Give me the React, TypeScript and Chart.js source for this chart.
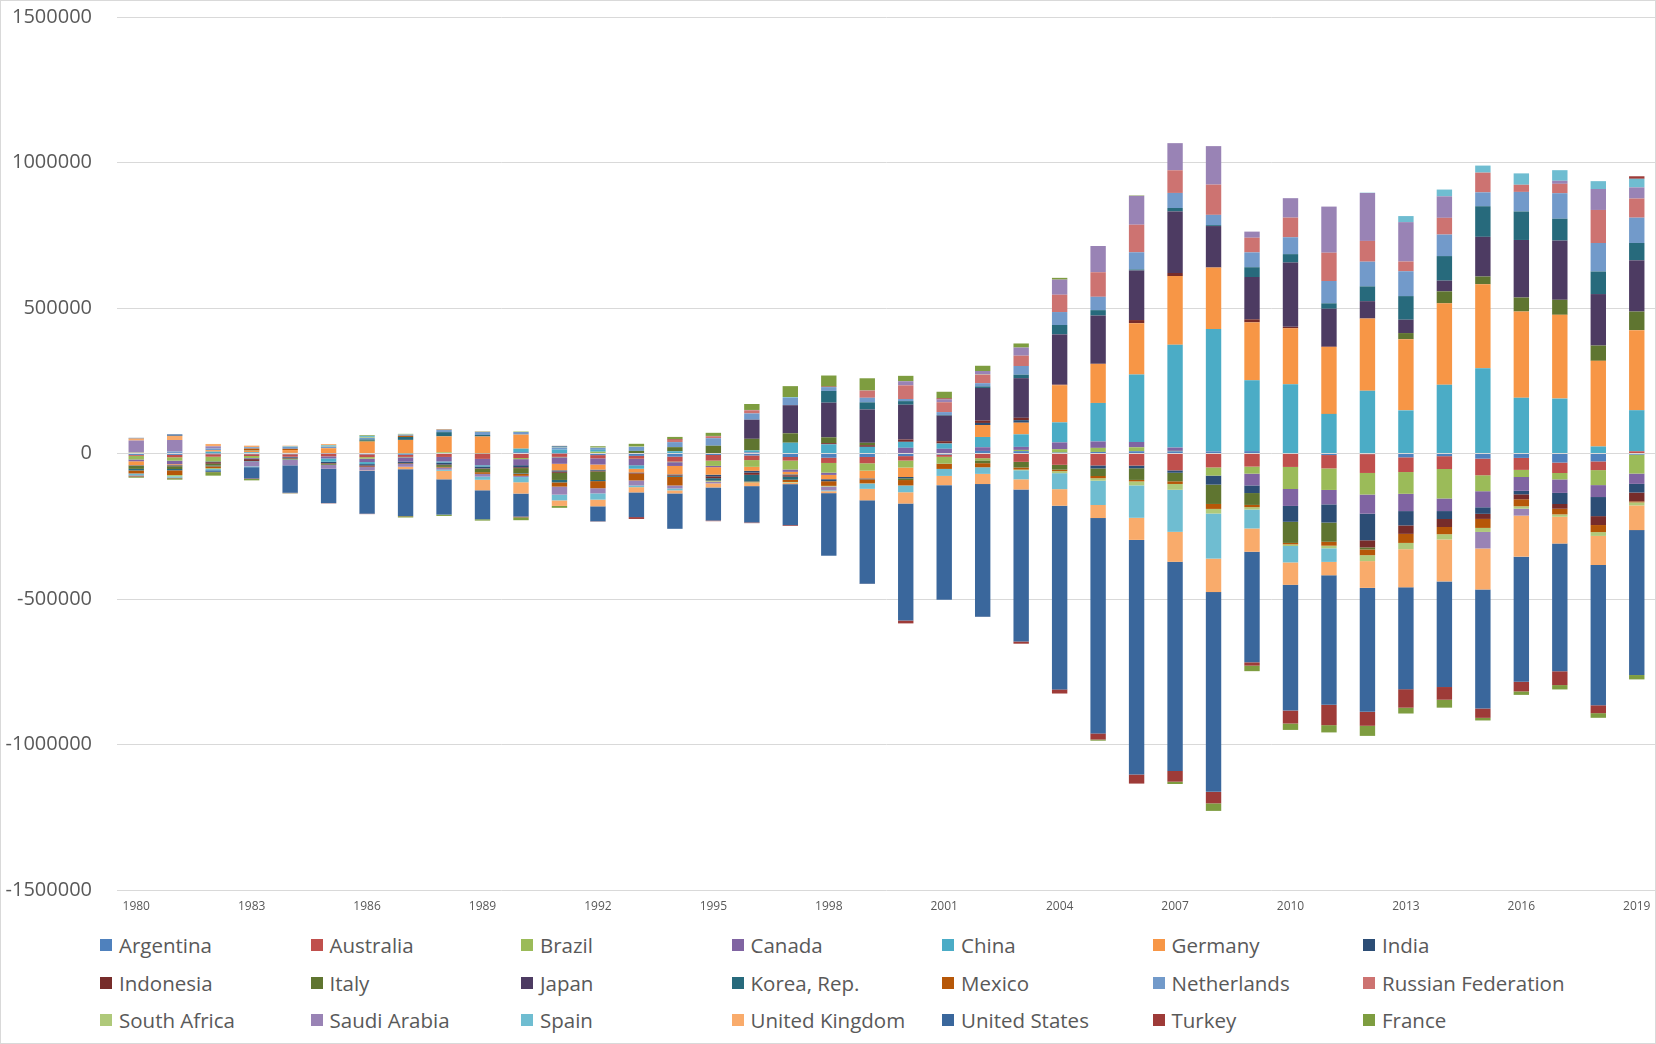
import React, { useEffect, useRef } from "react";
import { Chart, registerables } from "chart.js";

Chart.register(...registerables);

const years = [
  "1980", "1981", "1982", "1983", "1984", "1985", "1986", "1987", "1988", "1989",
  "1990", "1991", "1992", "1993", "1994", "1995", "1996", "1997", "1998", "1999",
  "2000", "2001", "2002", "2003", "2004", "2005", "2006", "2007", "2008", "2009",
  "2010", "2011", "2012", "2013", "2014", "2015", "2016", "2017", "2018", "2019",
];

const yTicks = [-1500000, -1000000, -500000, 0, 500000, 1000000, 1500000];

const argentina = [-4800, -4700, -2400, -2400, -2500, -1000, -2900, -4200, -1600, -1300, 4600, -600, -5500, -8200, -10900, -5100, -6800, -12000, -14500, -11900, -9000, -3800, 8800, 8100, 3200, 5300, 7800, 7400, 6800, 8200, -1600, -5300, -2100, -13100, -9200, -17600, -15100, -31200, -27100, -4000];
const australia = [-3000, -8300, -8600, -6100, -8600, -8800, -9600, -7500, -10200, -17200, -15600, -11000, -11300, -9700, -17100, -19400, -15800, -12400, -18000, -21700, -15200, -7600, -16100, -28700, -38900, -41000, -41500, -58000, -47800, -45000, -44600, -45900, -64800, -50600, -44000, -57200, -41200, -35800, -30000, 7500];
const brazil = [-12800, -11700, -16300, -6800, 0, -200, -5300, -1400, 4200, 1000, -3800, -1400, 6100, -700, -1800, -18100, -23200, -30500, -33400, -25300, -24200, -23200, -7600, 4200, 11700, 14000, 13600, 1600, -28200, -24300, -75800, -74000, -74200, -74800, -101400, -54800, -24500, -22000, -51500, -65000];
const canada = [-6100, -12100, 700, -2000, -1200, -7000, -11700, -14400, -15500, -21800, -20800, -22400, -21100, -21800, -13000, -4400, 3400, -8200, -7700, 1700, 19600, 16200, 12600, 10400, 23200, 22000, 18200, 11400, 300, -40400, -58200, -49600, -65700, -59400, -43200, -55200, -47400, -46400, -41000, -35400];
const china = [null, null, 5700, 4200, 2000, -11400, -7000, 300, -3800, -4300, 12000, 13300, 6400, -11900, 7700, 1600, 7200, 37000, 31500, 21100, 20500, 17400, 35400, 43100, 68900, 132400, 231800, 353200, 420600, 243300, 237800, 136100, 215400, 148200, 236000, 293000, 191300, 188700, 24100, 141300];
const germany = [-13800, -3600, 5100, 5300, 9800, 17600, 40900, 46400, 54700, 57400, 48300, -22400, -17500, -12900, -28900, -25800, -13800, -8700, -14700, -26700, -32400, 400, 41100, 40000, 127800, 134300, 176300, 236100, 211200, 199100, 192300, 229800, 248400, 244700, 280100, 288600, 296600, 287900, 294300, 275000];
const india = [-1800, -2700, -2500, -2000, -2500, -4300, -4400, -5000, -6800, -6300, -7000, -4300, -3500, -1900, -1700, -5600, -6000, -3000, -6900, -3200, -4600, 1400, 7100, 8800, 800, -10300, -9300, -8100, -30900, -26200, -54500, -62500, -91500, -49200, -27300, -22500, -12100, -38200, -65600, -29800];
const indonesia = [null, -600, -5300, -6300, -2000, -1900, -3900, -1700, -1900, -1600, -3000, -4300, -2800, -2100, -2800, -6400, -7700, -5000, 4100, 5800, 8000, 6900, 7800, 8100, 1600, 300, 10900, 10500, 100, 10600, 5100, 1700, -24400, -29100, -27500, -17500, -17000, -16200, -30600, -30300];
const italy = [-10600, -9500, -6300, 1400, -2700, -4000, 2800, -1600, -6200, -11700, -17000, -24500, -29300, 8600, 14100, 25100, 39900, 32400, 20000, 8200, -5800, -700, -9600, -19400, -16500, -26000, -40000, -29500, -66500, -40800, -72600, -66000, -7000, 21000, 41100, 26600, 48100, 51600, 52500, 64000];
const japan = [null, null, null, null, null, null, null, null, null, null, null, null, null, null, null, null, 65800, 96600, 119100, 114500, 119600, 87800, 112400, 136200, 172100, 165700, 170400, 211700, 142600, 145300, 221000, 129800, 59700, 45900, 36800, 136400, 197800, 203500, 177000, 176000];
const korea = [-5300, -4600, -2600, -1500, -1300, -800, 4700, 10100, 14500, 5300, -2000, -8300, -3900, 1000, -3900, -8500, -23000, -10300, 40400, 24500, 12300, 2400, 5400, 11900, 32300, 18600, 3600, 11800, 3200, 33600, 28900, 18700, 50800, 81100, 84400, 105100, 97900, 75200, 77500, 59700];
const mexico = [-10400, -16100, -6300, 5900, 4200, 1100, -1700, 4000, -2400, -5800, -7500, -14600, -24400, -23400, -29700, -1600, -2500, -7700, -16000, -13900, -18600, -17700, -14100, -7200, -5200, -7700, -5100, -9100, -17000, -7700, -5000, -13500, -19800, -31100, -24800, -30900, -24100, -19400, -24400, -3500];
const netherlands = [-1400, 6700, 5600, 4900, 6300, 5300, 5400, 4200, 7200, 10100, 9000, 7500, 7000, 13200, 17300, 25800, 21400, 25100, 13000, 15700, 7200, 9800, 11000, 29900, 44500, 45900, 58900, 51700, 35300, 51000, 58000, 76600, 84900, 85400, 74000, 47700, 67300, 87600, 98000, 87000];
const russia = [null, null, null, null, null, null, null, null, null, null, null, null, null, null, 7800, 7000, 10800, -100, 200, 24600, 46800, 33900, 29100, 35400, 59500, 84400, 94700, 77800, 103900, 50400, 67500, 97300, 71300, 33400, 57500, 67800, 24500, 32200, 113500, 65700];
const southAfrica = [3100, -4400, -3100, -300, -1400, 2300, 2700, 2700, 1100, 1400, 2100, 2200, 1500, 1500, 100, -2500, -1700, -2300, -2200, -700, -200, 300, 900, -2300, -7000, -8500, -13700, -20000, -15900, -8100, -5600, -9100, -20300, -21600, -18100, -13900, -8200, -8200, -13000, -10300];
const saudiArabia = [41500, 39600, 7600, -16900, -18400, -12900, -11800, -9800, -7300, -9500, -4200, -27500, -17700, -17300, -10500, -5300, 700, 300, -13100, 400, 14300, 9400, 11900, 28000, 52000, 90100, 99100, 93300, 132300, 21000, 66800, 158500, 164800, 135400, 73800, -56700, -23800, 10500, 72000, 38200];
const spain = [-5600, -4900, -4200, -2700, 2000, 2800, 3900, -300, -3800, -10900, -18000, -19800, -21500, -5800, -6400, 800, 400, 2500, -3100, -18100, -23200, -24000, -22600, -31100, -54900, -83400, -111300, -144500, -154900, -65100, -56400, -46600, 1000, 20800, 23300, 24200, 39100, 36400, 27000, 29600];
const unitedKingdom = [6900, 14400, 8100, 5300, 2600, 3300, -1300, -8100, -29200, -36000, -38800, -19100, -23000, -18000, -10500, -14000, -11600, -5100, -6600, -39500, -38800, -31700, -35000, -35000, -57000, -45000, -76000, -103000, -115000, -80000, -77000, -46000, -92000, -131000, -144000, -141000, -141000, -92000, -100000, -85000];
const unitedStates = [2300, 5000, -5500, -38700, -94300, -118200, -147200, -160700, -121200, -99500, -79000, 2900, -51600, -84800, -121600, -113600, -124800, -140700, -215100, -286600, -401900, -394100, -456100, -522300, -631100, -740000, -806200, -718600, -686600, -380000, -432000, -445000, -426000, -350000, -363000, -409000, -430000, -439000, -482000, -498000];
const turkey = [-3400, -1900, -900, -1900, -1400, -1000, -1500, -800, 1600, 900, -2600, 300, -1000, -6400, 2600, -2300, -2400, -2600, 2000, -900, -9900, 3800, -600, -7600, -14200, -21000, -31200, -36900, -39400, -11400, -44600, -70000, -47900, -63600, -43600, -32100, -33100, -47400, -27100, 8700];
const france = [-4200, -4800, -12100, -4700, -900, 0, 2400, -4400, -4600, -4700, -9900, -6500, 3900, 9000, 7400, 10800, 20600, 37600, 37700, 42000, 18600, 22500, 18000, 14000, 6000, -4000, 1500, -8000, -26000, -19000, -22000, -25000, -34700, -20000, -27300, -9000, -12000, -15000, -16000, -15000];

const seriesNames = [
  "Argentina", "Australia", "Brazil", "Canada", "China", "Germany", "India",
  "Indonesia", "Italy", "Japan", "Korea, Rep.", "Mexico", "Netherlands", "Russian Federation",
  "South Africa", "Saudi Arabia", "Spain", "United Kingdom", "United States", "Turkey", "France",
];
const seriesData = [
  argentina, australia, brazil, canada, china, germany, india,
  indonesia, italy, japan, korea, mexico, netherlands, russia,
  southAfrica, saudiArabia, spain, unitedKingdom, unitedStates, turkey, france,
];
const seriesColors = [
  "#4F81BD", "#C0504D", "#9BBB59", "#8064A2", "#4BACC6", "#F79646", "#2C4D75",
  "#772C2A", "#5F7530", "#4D3B62", "#276A7C", "#B65708", "#729ACA", "#CD7371",
  "#AFC97A", "#9983B5", "#6FBDD1", "#F9AB6B", "#3A679C", "#9E3B38", "#7E9D40",
];

const FONT = "'Open Sans', 'Noto Sans', sans-serif";
const TEXT = "#595959";

export default function App() {
  const ref = useRef<HTMLCanvasElement>(null);

  useEffect(() => {
    document.body.style.margin = "0";
    const canvas = ref.current;
    if (!canvas) return;
    const chart = new Chart(canvas, {
      type: "bar",
      data: {
        labels: years,
        datasets: seriesNames.map((name, i) => ({
          label: name,
          data: seriesData[i],
          backgroundColor: seriesColors[i],
          borderWidth: 0,
          barPercentage: 0.4,
          categoryPercentage: 1,
          stack: "all",
        })),
      },
      options: {
        animation: false,
        responsive: false,
        maintainAspectRatio: false,
        layout: { padding: { top: 17, right: 0, bottom: 0, left: 0 } },
        plugins: { legend: { display: false }, tooltip: { enabled: false } },
        scales: {
          x: {
            stacked: true,
            grid: {
              display: true,
              drawOnChartArea: false,
              drawTicks: true,
              tickLength: 9,
              color: "rgba(0,0,0,0)",
              tickColor: "rgba(0,0,0,0)",
            },
            border: { display: false },
            ticks: {
              autoSkip: false,
              maxRotation: 0,
              minRotation: 0,
              padding: 0,
              color: TEXT,
              font: { family: FONT, size: 12 },
              callback: (_v: any, i: number) => (i % 3 === 0 ? years[i] : ""),
            },
            afterFit: (s: any) => {
              s.height = 30;
            },
          },
          y: {
            stacked: true,
            min: yTicks[0],
            max: yTicks[yTicks.length - 1],
            afterBuildTicks: (s: any) => {
              s.ticks = yTicks.map((v) => ({ value: v }));
            },
            grid: {
              color: "#D9D9D9",
              lineWidth: 1,
              drawTicks: true,
              tickLength: 25,
              tickColor: "rgba(0,0,0,0)",
            },
            border: { display: false },
            ticks: {
              padding: 0,
              color: TEXT,
              font: { family: FONT, size: 20 },
              callback: (v: any) => String(v),
            },
            afterFit: (s: any) => {
              s.width = 117;
            },
          },
        },
      },
    });
    return () => chart.destroy();
  }, []);

  const rowY = [945, 983, 1020];

  return (
    <div style={{ position: "relative", width: 1656, height: 1044, overflow: "hidden", background: "#fff" }}>
      <canvas ref={ref} width={1656} height={920} style={{ position: "absolute", left: 0, top: 0, display: "block" }} />
      {seriesNames.map((name, i) => {
        const col = i % 7;
        const row = Math.floor(i / 7);
        return (
          <div
            key={name}
            style={{
              position: "absolute",
              left: 100 + col * 210.5,
              top: rowY[row] - 14,
              height: 28,
              display: "flex",
              alignItems: "center",
              fontFamily: FONT,
              fontSize: 20.5,
              color: TEXT,
              whiteSpace: "nowrap",
            }}
          >
            <span style={{ display: "inline-block", width: 12, height: 12, background: seriesColors[i], marginRight: 7 }} />
            <span>{name}</span>
          </div>
        );
      })}
      <div style={{ position: "absolute", left: 0, top: 0, right: 0, bottom: 0, border: "1px solid #D9D9D9", pointerEvents: "none" }} />
    </div>
  );
}
